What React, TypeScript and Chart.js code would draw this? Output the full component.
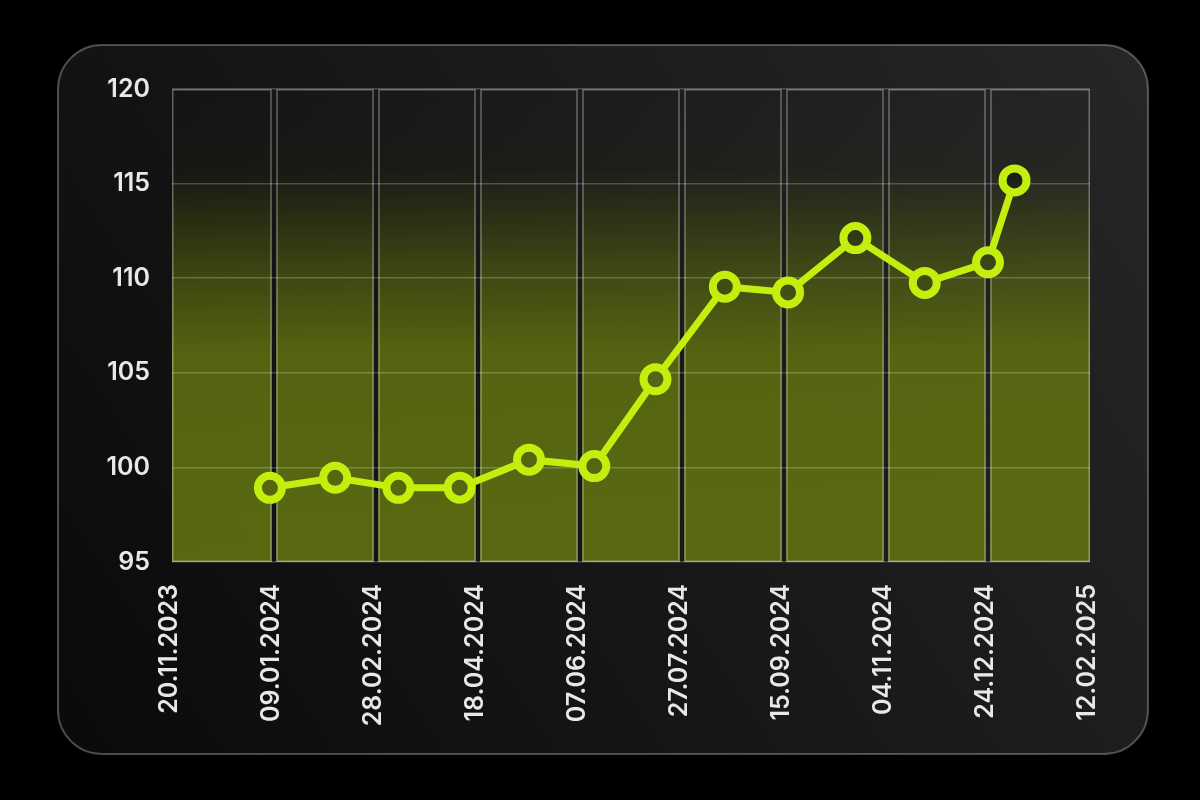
import React, { useEffect, useRef } from "react";
import { Chart, registerables } from "chart.js";

Chart.register(...registerables);

const START_DATE = "2023-11-20";
const END_DATE = "2025-02-12";
const TICK_STEP_DAYS = 50;

const pointDates = [
  "2024-01-07",
  "2024-02-08",
  "2024-03-10",
  "2024-04-09",
  "2024-05-13",
  "2024-06-14",
  "2024-07-14",
  "2024-08-17",
  "2024-09-17",
  "2024-10-20",
  "2024-11-23",
  "2024-12-24",
  "2025-01-06",
];
const pointValues = [
  98.92, 99.45, 98.92, 98.93, 100.41, 100.07, 104.66, 109.55, 109.25, 112.12,
  109.75, 110.84, 115.17,
];

const Y_MIN = 95;
const Y_MAX = 120;
const Y_STEP = 5;

const DAY_MS = 86400000;
const parseUTC = (s: string) => {
  const [y, m, d] = s.split("-").map(Number);
  return Date.UTC(y, m - 1, d);
};
const startMs = parseUTC(START_DATE);
const toDay = (s: string) => Math.round((parseUTC(s) - startMs) / DAY_MS);
const fmtDay = (day: number) => {
  const dt = new Date(startMs + Math.round(day) * DAY_MS);
  const dd = String(dt.getUTCDate()).padStart(2, "0");
  const mm = String(dt.getUTCMonth() + 1).padStart(2, "0");
  return `${dd}.${mm}.${dt.getUTCFullYear()}`;
};

const LIME = "#c4ee0e";
const FONT = { family: "Inter, 'Noto Sans', sans-serif", size: 25, weight: "600" as const };

const backdropPlugin = {
  id: "backdrop",
  beforeDraw(chart: any) {
    const { ctx, chartArea } = chart;
    const cx = 58, cy = 45, cw = 1090, ch = 709;
    ctx.save();
    // card
    const cg = ctx.createLinearGradient(cx, cy + ch, cx + cw, cy);
    cg.addColorStop(0, "#0a0a0a");
    cg.addColorStop(1, "#262626");
    ctx.beginPath();
    ctx.roundRect(cx, cy, cw, ch, 44);
    ctx.fillStyle = cg;
    ctx.fill();
    ctx.lineWidth = 2;
    ctx.strokeStyle = "rgba(255,255,255,0.28)";
    ctx.stroke();

    // columns
    const xs = chart.scales.x;
    const ticks = xs.ticks;
    const top = chartArea.top;
    const bottom = chartArea.bottom;
    const og = ctx.createLinearGradient(0, top, 0, bottom);
    og.addColorStop(0, "rgba(92,108,16,0)");
    og.addColorStop(0.17, "rgba(92,108,16,0.04)");
    og.addColorStop(0.38, "rgba(92,108,16,0.55)");
    og.addColorStop(0.56, "rgba(92,108,16,0.9)");
    og.addColorStop(1, "rgba(92,108,16,0.96)");
    const gap = 4.5;
    const n = ticks.length - 1;
    for (let i = 0; i < n; i++) {
      const a = xs.getPixelForValue(ticks[i].value);
      const b = xs.getPixelForValue(ticks[i + 1].value);
      const l = a + (i > 0 ? gap / 2 : 0);
      const r = b - (i < n - 1 ? gap / 2 : 0);
      ctx.fillStyle = og;
      ctx.fillRect(l, top, r - l, bottom - top);
      ctx.lineWidth = 1.5;
      ctx.strokeStyle = "rgba(255,255,255,0.33)";
      ctx.strokeRect(l + 0.75, top + 0.75, r - l - 1.5, bottom - top - 1.5);
    }
    ctx.restore();
  },
};

export default function App() {
  const ref = useRef<HTMLCanvasElement | null>(null);

  useEffect(() => {
    const canvas = ref.current!;
    const ctx = canvas.getContext("2d")!;
    const top = 89, bottom = 562;
    const pg = ctx.createLinearGradient(0, top, 0, bottom);
    pg.addColorStop(0, "#181818");
    pg.addColorStop(0.17, "#1b1b18");
    pg.addColorStop(0.38, "#3d4716");
    pg.addColorStop(0.56, "#556411");
    pg.addColorStop(1, "#58680f");

    const data = pointDates.map((d, i) => ({ x: toDay(d), y: pointValues[i] }));
    const totalDays = toDay(END_DATE);

    const chart = new Chart(canvas, {
      type: "line",
      data: {
        datasets: [
          {
            data,
            borderColor: LIME,
            borderWidth: 7,
            pointRadius: 12,
            pointHoverRadius: 12,
            pointBorderWidth: 8,
            pointBorderColor: LIME,
            pointBackgroundColor: pg,
            tension: 0,
          },
        ],
      },
      options: {
        animation: false,
        responsive: false,
        layout: { padding: { left: 0, right: 110, top: 89, bottom: 0 } },
        plugins: { legend: { display: false }, tooltip: { enabled: false } },
        scales: {
          x: {
            type: "linear",
            min: 0,
            max: totalDays,
            afterFit: (s: any) => {
              s.height = 238;
            },
            grid: { display: false },
            border: { display: false },
            ticks: {
              stepSize: TICK_STEP_DAYS,
              autoSkip: false,
              maxRotation: 90,
              minRotation: 90,
              padding: 14,
              labelOffset: -3,
              color: "#e8e8e8",
              font: FONT,
              callback: (v: any) => fmtDay(Number(v)),
            },
          },
          y: {
            min: Y_MIN,
            max: Y_MAX,
            afterFit: (s: any) => {
              s.width = 172;
            },
            grid: { color: "rgba(255,255,255,0.22)", lineWidth: 1.5, drawTicks: false },
            border: { display: false },
            ticks: {
              stepSize: Y_STEP,
              padding: 22,
              color: "#e8e8e8",
              font: FONT,
            },
          },
        },
      },
      plugins: [backdropPlugin],
    });
    return () => chart.destroy();
  }, []);

  return (
    <div style={{ position: "fixed", left: 0, top: 0, width: 1200, height: 800, background: "#000" }}>
      <canvas ref={ref} width={1200} height={800} style={{ display: "block", width: 1200, height: 800 }} />
    </div>
  );
}
